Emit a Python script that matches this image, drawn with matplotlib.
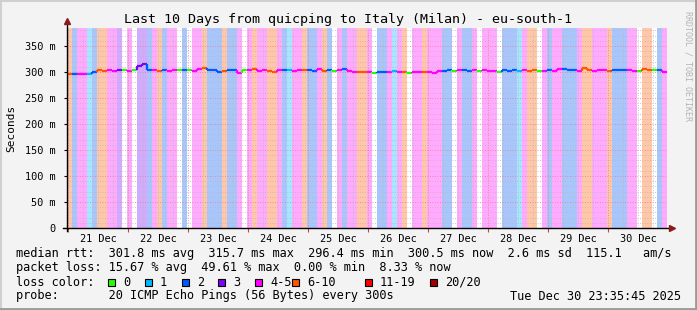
import matplotlib.pyplot as plt
from matplotlib.patches import Rectangle
from matplotlib.lines import Line2D

plt.rcParams['font.family'] = 'DejaVu Sans Mono'

# loss class per 2-hour bin (W=0, C=1, B=2, P=3, M=4-5, O=6-10), one string per day
loss_days = ["OBMMCBOOMMPW", "MWPPBMOBMMWB", "WMMOBBBOBBMW", "MOMMOOMBCMMO",
             "BBMOBWMBMMOO", "MWBBMCMOWMMO", "MMMBBWMBBMWM", "MMWBBBCMOOWM",
             "BMMBBBMOOMMM", "OBBBMMWOOWBM"]
# median rtt per 2-hour bin (ms)
median_days = [
    [296, 297, 297, 296, 297, 300, 303, 302, 303, 301, 303, 304],
    [302, 304, 311, 315, 303, 303, 302, 303, 302, 303, 303, 304],
    [304, 302, 305, 307, 303, 303, 300, 302, 304, 303, 298, 304],
    [303, 305, 302, 303, 302, 300, 303, 303, 303, 302, 303, 304],
    [303, 301, 305, 302, 303, 301, 303, 305, 301, 300, 300, 300],
    [300, 299, 300, 300, 300, 301, 300, 300, 299, 300, 300, 300],
    [300, 299, 302, 301, 303, 302, 304, 303, 302, 303, 301, 303],
    [302, 302, 300, 303, 302, 303, 301, 303, 302, 304, 302, 301],
    [303, 302, 305, 306, 303, 303, 302, 307, 303, 302, 303, 304],
    [302, 303, 303, 303, 304, 302, 301, 305, 303, 303, 304, 300],
]
day_labels = ["21 Dec", "22 Dec", "23 Dec", "24 Dec", "25 Dec",
              "26 Dec", "27 Dec", "28 Dec", "29 Dec", "30 Dec"]
yticks = [0, 50, 100, 150, 200, 250, 300, 350]
ytick_labels = ["0", "50 m", "100 m", "150 m", "200 m", "250 m", "300 m", "350 m"]
loss_names = ["0", "1", "2", "3", "4-5", "6-10", "11-19", "20/20"]
loss_colors = ["#26ff00", "#00b8ff", "#0059ff", "#7e00ff", "#ff00ff", "#ff5500", "#ff0000", "#a10000"]

line_col = {"W": "#26ff00", "C": "#00b8ff", "B": "#0059ff", "P": "#7e00ff", "M": "#ff00ff", "O": "#ff5500"}
bg_col = {"W": "#ffffff", "C": "#a6e6ff", "B": "#a8c6fb", "P": "#d2aaff", "M": "#ffaaff", "O": "#ffc6a8"}

loss = "".join(loss_days)
median = [v for d in median_days for v in d]
step = 2.0  # hours per bin
t = [i * step for i in range(len(loss))]
midnight0 = 0.404  # start is 20 Dec 23:35:45

W, H = 697, 310
fig = plt.figure(figsize=(W / 100, H / 100), dpi=100)
fig.patch.set_facecolor('#f3f3f3')
ax = fig.add_axes([67 / W, 82 / H, 600 / W, 200 / H])
ymax = 384.6
ax.set_xlim(0, 240)
ax.set_ylim(0, ymax)
ax.set_facecolor('white')
for s in ax.spines.values():
    s.set_visible(False)

# loss background stripes
ax.bar(t, [ymax] * len(t), width=step, align='edge',
       color=[bg_col[c] for c in loss], linewidth=0, zorder=1)

# grid
for y in range(10, 390, 10):
    if y % 50:
        ax.axhline(y, color='#b8b8b8', lw=0.6, ls=(0, (1, 2)), zorder=2)
    else:
        ax.axhline(y, color='#e08080', lw=0.6, ls=(0, (1, 2)), zorder=2)
for k in range(41):
    x = midnight0 + 6 * k
    if x > 240:
        break
    if k % 4:
        ax.axvline(x, color='#b8b8b8', lw=0.6, ls=(0, (1, 2)), zorder=2)
    else:
        ax.axvline(x, color='#e08080', lw=0.6, ls=(0, (1, 2)), zorder=2)

# median line coloured by loss
ax.hlines(median, t, [x + step for x in t], colors=[line_col[c] for c in loss],
          lw=1.6, zorder=4)
ax.vlines(t[1:], median[:-1], median[1:], colors=[line_col[c] for c in loss[1:]],
          lw=1.6, zorder=4)

# axes lines with arrows
ax.plot([-0.007, 1.006], [0, 0], transform=ax.transAxes, color='black', lw=1,
        clip_on=False, zorder=5)
ax.plot([0, 0], [-0.015, 1.03], transform=ax.transAxes, color='black', lw=1,
        clip_on=False, zorder=5)
ax.plot([1.008], [0], transform=ax.transAxes, marker='>', color='#8b1a1a', ms=4,
        clip_on=False, zorder=6)
ax.plot([0], [1.035], transform=ax.transAxes, marker='^', color='#8b1a1a', ms=4,
        clip_on=False, zorder=6)

# ticks
ax.set_yticks(yticks)
ax.set_yticklabels(ytick_labels)
ax.tick_params(axis='y', length=2, width=0.8, pad=6, labelsize=7.4, colors='black')
midnights = [midnight0 + 24 * k for k in range(10)]
ax.set_xticks(midnights)
ax.set_xticklabels([])
ax.tick_params(axis='x', which='major', length=3, width=0.8, color='#d04040')
ax.set_xticks([m + 12 for m in midnights], minor=True)
ax.set_xticklabels(day_labels, minor=True)
ax.tick_params(axis='x', which='minor', length=0, pad=4, labelsize=7.4)

# texts
fig.text(348 / W, 1 - 19 / H, "Last 10 Days from quicping to Italy (Milan) - eu-south-1",
         ha='center', va='center', fontsize=9.6)
fig.text(11 / W, 1 - 128 / H, "Seconds", rotation=90, ha='center', va='center', fontsize=8)
fig.text(688 / W, 1 - 66 / H, "RRDTOOL / TOBI OETIKER", rotation=270, ha='center',
         va='center', fontsize=6, color='#b4b4b4')

fs = 8.6
fig.text(16 / W, 1 - 254 / H,
         "median rtt:  301.8 ms avg  315.7 ms max  296.4 ms min  300.5 ms now  2.6 ms sd  115.1   am/s",
         va='center', fontsize=fs)
fig.text(16 / W, 1 - 268 / H,
         "packet loss: 15.67 % avg  49.61 % max  0.00 % min  8.33 % now",
         va='center', fontsize=fs)
fig.text(16 / W, 1 - 282 / H, "loss color:", va='center', fontsize=fs)
box_x = [108, 145, 182, 218, 255, 292, 365, 430]
for bx, name, col in zip(box_x, loss_names, loss_colors):
    fig.add_artist(Rectangle((bx / W, 1 - 286 / H), 7 / W, 7 / H, facecolor=col,
                             edgecolor='black', lw=0.8, transform=fig.transFigure))
    fig.text((bx + 15) / W, 1 - 282 / H, name, va='center', fontsize=fs)
fig.text(16 / W, 1 - 296 / H, "probe:       20 ICMP Echo Pings (56 Bytes) every 300s",
         va='center', fontsize=fs)
fig.text(681 / W, 1 - 296 / H, "Tue Dec 30 23:35:45 2025", ha='right', va='center',
         fontsize=fs)

# frame
fig.add_artist(Line2D([0, 1], [1 - 0.5 / H, 1 - 0.5 / H], color='#d0d0d0', lw=1.5))
fig.add_artist(Line2D([0.5 / W, 0.5 / W], [0, 1], color='#d0d0d0', lw=1.5))
fig.add_artist(Line2D([0, 1], [1 / H, 1 / H], color='#9a9a9a', lw=2))
fig.add_artist(Line2D([1 - 1 / W, 1 - 1 / W], [0, 1], color='#9a9a9a', lw=2))

fig.savefig("out.png", dpi=100, facecolor=fig.get_facecolor())
